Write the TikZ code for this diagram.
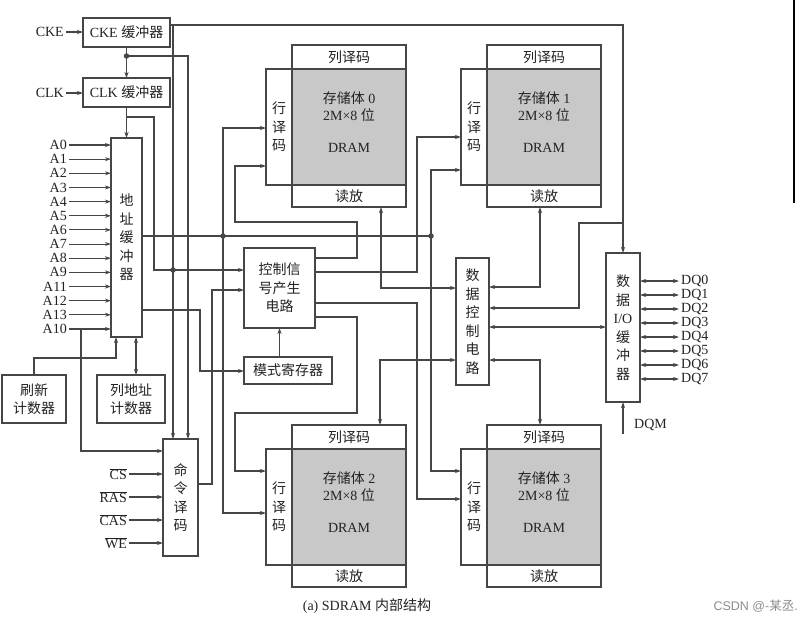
\documentclass[tikz,border=0pt]{standalone}
\usepackage{fontspec}
\setmainfont{Liberation Serif}
\newfontfamily\cjk{Noto Sans CJK SC}
\newfontfamily\wmfont{Liberation Sans}
\usetikzlibrary{arrows.meta}
\definecolor{linec}{RGB}{70,70,70}
\definecolor{txtc}{RGB}{35,35,35}
\definecolor{memgray}{RGB}{200,200,200}
\newcommand\zh[1]{{\cjk #1}}
\newcommand\fsz{\fontsize{14}{18.5}\selectfont}
\tikzset{
  wire/.style={draw=linec, line width=1.1pt},
  arr/.style={wire, -{Stealth[length=6pt,width=4pt]}},
  darr/.style={wire, {Stealth[length=6pt,width=4pt]}-{Stealth[length=6pt,width=4pt]}},
  box/.style={draw=linec, line width=1.1pt, fill=white, inner sep=0pt, outer sep=0pt,
              anchor=north west, align=center, text=txtc},
  zh/.style={font=\cjk\fsz},
  la/.style={font=\rmfamily\fsz},
  lbl/.style={inner sep=2pt, text=txtc, font=\rmfamily\fsz},
  memtxt/.style={inner sep=0pt, text=txtc, font=\rmfamily\fsz},
  jdot/.style={circle, fill=linec, inner sep=0pt, minimum size=5.5pt},
}
\newcommand\mkbank[4]{%
  \node[box,zh,minimum width=26pt,minimum height=116pt] (row#1) at (#2,#3+24) {行\\译\\码};
  \node[box,fill=memgray,minimum width=114pt,minimum height=116pt] (mem#1) at (#2+26,#3+24) {};
  \node[box,zh,minimum width=114pt,minimum height=24pt] (col#1) at (#2+26,#3) {列译码};
  \node[box,zh,minimum width=114pt,minimum height=22pt] (ra#1) at (#2+26,#3+140) {读放};
  \node[memtxt] (memA#1) at (#2+83,#3+53) {\zh{存储体} #4};
  \node[memtxt] (memB#1) at (#2+83,#3+70) {2M×8 \zh{位}};
  \node[memtxt] (memC#1) at (#2+83,#3+103) {DRAM};
}
\begin{document}
\begin{tikzpicture}[x=1pt,y=-1pt,font=\rmfamily\fsz]
\useasboundingbox (0,0) rectangle (810,624);
\fill[white] (0,0) rectangle (810,624);

% ---- boxes ----
\node[box,la,minimum width=87pt,minimum height=29pt] (cke) at (83,18) {CKE \zh{缓冲器}};
\node[box,la,minimum width=87pt,minimum height=29pt] (clk) at (83,78) {CLK \zh{缓冲器}};
\node[box,zh,minimum width=31pt,minimum height=199pt] (addr) at (111,138) {地\\址\\缓\\冲\\器};
\node[box,zh,minimum width=64pt,minimum height=48pt] (refresh) at (2,375) {刷新\\计数器};
\node[box,zh,minimum width=68pt,minimum height=48pt] (colcnt) at (97,375) {列地址\\计数器};
\node[box,zh,minimum width=71pt,minimum height=80pt] (ctrl) at (244,248) {控制信\\号产生\\电路};
\node[box,zh,minimum width=88pt,minimum height=27pt] (mode) at (244,357) {模式寄存器};
\node[box,zh,minimum width=35pt,minimum height=117pt] (cmd) at (163,439) {命\\令\\译\\码};
\node[box,zh,minimum width=33pt,minimum height=127pt] (datac) at (456,258) {数\\据\\控\\制\\电\\路};
\node[box,la,minimum width=34pt,minimum height=149pt] (io) at (606,253) {\zh{数}\\\zh{据}\\I/O\\\zh{缓}\\\zh{冲}\\\zh{器}};

\mkbank{0}{266}{45}{0}
\mkbank{1}{461}{45}{1}
\mkbank{2}{266}{425}{2}
\mkbank{3}{461}{425}{3}

% ---- junction dots ----
\node[jdot] (j1) at (cke.south |- 0,56) {};
\node[jdot] (j2) at (173,270) {};
\node[jdot] (j3) at (223,236) {};
\node[jdot] (j4) at (431,236) {};

% ---- clock inputs ----
\node[lbl,anchor=east] (ckel) at (66,32) {CKE};
\draw[arr] (ckel.east) -- (cke.west |- ckel.east);
\node[lbl,anchor=east] (clkl) at (66,93) {CLK};
\draw[arr] (clkl.east) -- (clk.west |- clkl.east);

\draw[arr] (cke.south) -- (clk.north);
\draw[arr] (j1.center) -- (188,56) -- (cmd.north -| 188,0);
\draw[arr] (cke.east |- 0,25) -- (623,25) -- (io.north);
\draw[arr] (173,25) -- (cmd.north -| 173,0);
\draw[arr] (623,223) -- (579,223) -- (579,308) -- (datac.east |- 0,308);
\draw[arr] (clk.south) -- (addr.north);
\draw[arr] (clk.south |- 0,117) -- (154,117) -- (154,270) -- (ctrl.west |- 0,270);

% ---- address pins ----
\foreach \lab [count=\i from 0] in {A0,A1,A2,A3,A4,A5,A6,A7,A8,A9,A11,A12,A13,A10}{
  \node[lbl,anchor=east] (pin\i) at (69,{145+14.15*\i}) {\lab};
  \draw[arr] (pin\i.east) -- (addr.west |- pin\i.east);
}
\draw[arr] (pin13.east -| 81,0) -- (81,451) -- (cmd.west |- 0,451);

\draw[arr] (refresh.north) -- (refresh.north |- 0,358) -- (116,358) -- (addr.south -| 116,0);
\draw[darr] (addr.south -| 136,0) -- (colcnt.north -| 136,0);

% ---- address outputs ----
\draw[wire] (addr.east |- 0,236) -- (j4.center);
\draw[arr] (j3.center) -- (223,128) -- (row0.west |- 0,128);
\draw[arr] (j3.center) -- (223,513) -- (row2.west |- 0,513);
\draw[arr] (j4.center) -- (431,170) -- (row1.west |- 0,170);
\draw[arr] (j4.center) -- (431,471) -- (row3.west |- 0,471);
\draw[arr] (addr.east |- 0,310) -- (200,310) -- (200,371) -- (mode.west |- 0,371);

% ---- control ----
\draw[arr] (mode.north -| ctrl.south) -- (ctrl.south);
\draw[arr] (cmd.east |- 0,484) -- (212,484) -- (212,290) -- (ctrl.west |- 0,290);
\draw[arr] (ctrl.east |- 0,258) -- (357,258) -- (357,222) -- (235,222) -- (235,166) -- (row0.west |- 0,166);
\draw[arr] (ctrl.east |- 0,272) -- (417,272) -- (417,137) -- (row1.west |- 0,137);
\draw[arr] (ctrl.east |- 0,303) -- (417,303) -- (417,499) -- (row3.west |- 0,499);
\draw[arr] (ctrl.east |- 0,317) -- (357,317) -- (357,413) -- (235,413) -- (235,471) -- (row2.west |- 0,471);

% ---- command inputs ----
\foreach \lab/\yy [count=\i] in {CS/474,RAS/497,CAS/520,WE/543}{
  \node[lbl,anchor=east] (ci\i) at (129,\yy) {$\overline{\mbox{\lab}}$};
  \draw[arr] (ci\i.east |- 0,\yy) -- (cmd.west |- 0,\yy);
}

% ---- data paths ----
\draw[darr] (ra0.south -| 381,0) -- (381,288) -- (datac.west |- 0,288);
\draw[darr] (datac.west |- 0,360) -- (380,360) -- (col2.north -| 380,0);
\draw[darr] (ra1.south -| 540,0) -- (540,287) -- (datac.east |- 0,287);
\draw[darr] (datac.east |- 0,360) -- (540,360) -- (col3.north -| 540,0);
\draw[darr] (datac.east |- 0,327) -- (io.west |- 0,327);

\foreach \i in {0,...,7}{
  \node[lbl,anchor=west] (dq\i) at (679,{281+14*\i}) {DQ\i};
  \draw[darr] (io.east |- dq\i.west) -- (dq\i.west);
}
\node[lbl,anchor=west] (dqm) at (632,425) {DQM};
\coordinate (dqmin) at (623,434);
\draw[arr] (dqmin) -- (io.south);

% ---- caption, watermark, border mark ----
\node[lbl] (cap) at (367,606) {(a) SDRAM \zh{内部结构}};
\node[anchor=east,inner sep=0pt,text=black!45,font=\fontsize{12.5}{14}\selectfont] (wm) at (798,606)
  {{\wmfont CSDN @-}{\cjk 某丞}{\wmfont .}};
\draw[line width=2pt,black] (794,0) -- (794,203);
\end{tikzpicture}
\end{document}
